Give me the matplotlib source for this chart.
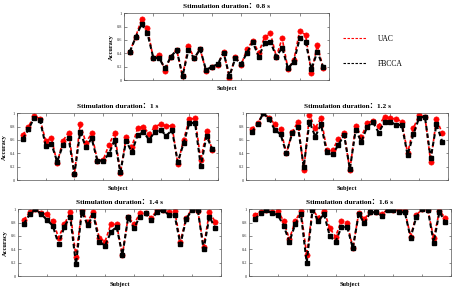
import matplotlib
matplotlib.use("Agg")
import matplotlib.pyplot as plt
from matplotlib.lines import Line2D
import numpy as np

# Accuracy per subject (34 subjects)
subjects = np.arange(1, 35)

uac_08 = [0.425, 0.65, 0.91, 0.775, 0.325, 0.375, 0.14, 0.35, 0.45, 0.06,
          0.51, 0.325, 0.465, 0.135, 0.2, 0.225, 0.425, 0.035, 0.35, 0.225,
          0.465, 0.59, 0.41, 0.64, 0.70, 0.35, 0.625, 0.165, 0.30, 0.74,
          0.675, 0.10, 0.525, 0.175]
fbcca_08 = [0.425, 0.64, 0.84, 0.70, 0.335, 0.325, 0.175, 0.35, 0.45, 0.06,
            0.45, 0.325, 0.465, 0.15, 0.2, 0.235, 0.41, 0.06, 0.325, 0.24,
            0.41, 0.565, 0.35, 0.55, 0.575, 0.35, 0.485, 0.175, 0.275, 0.625,
            0.575, 0.16, 0.425, 0.2]

uac_10 = [0.675, 0.80, 0.965, 0.915, 0.585, 0.625, 0.25, 0.59, 0.71, 0.085,
          0.84, 0.56, 0.70, 0.29, 0.30, 0.525, 0.71, 0.10, 0.64, 0.50,
          0.775, 0.80, 0.69, 0.80, 0.835, 0.81, 0.81, 0.24, 0.60, 0.91,
          0.925, 0.30, 0.735, 0.45]
fbcca_10 = [0.615, 0.76, 0.935, 0.90, 0.515, 0.54, 0.275, 0.525, 0.625, 0.085,
            0.725, 0.49, 0.625, 0.29, 0.29, 0.39, 0.60, 0.115, 0.59, 0.415,
            0.675, 0.725, 0.60, 0.725, 0.75, 0.665, 0.75, 0.265, 0.55, 0.85,
            0.86, 0.21, 0.66, 0.465]

uac_12 = [0.76, 0.85, 1.0, 0.935, 0.835, 0.76, 0.40, 0.715, 0.875, 0.15,
          0.975, 0.775, 0.935, 0.45, 0.45, 0.615, 0.70, 0.15, 0.815, 0.65,
          0.85, 0.89, 0.815, 0.95, 0.925, 0.915, 0.875, 0.40, 0.775, 0.975,
          0.95, 0.275, 0.915, 0.70]
fbcca_12 = [0.715, 0.835, 1.0, 0.915, 0.75, 0.685, 0.40, 0.70, 0.80, 0.20,
            0.875, 0.65, 0.835, 0.415, 0.385, 0.525, 0.675, 0.165, 0.75, 0.575,
            0.80, 0.865, 0.71, 0.875, 0.875, 0.825, 0.825, 0.375, 0.685, 0.935,
            0.95, 0.325, 0.835, 0.575]

uac_14 = [0.84, 0.955, 1.0, 0.94, 0.925, 0.825, 0.575, 0.775, 0.955, 0.29,
          0.99, 0.815, 0.965, 0.575, 0.515, 0.775, 0.775, 0.315, 0.89, 0.775,
          0.94, 0.94, 0.875, 0.99, 0.99, 0.955, 0.975, 0.515, 0.875, 1.0,
          0.98, 0.44, 0.955, 0.815]
fbcca_14 = [0.78, 0.925, 1.0, 0.93, 0.84, 0.755, 0.475, 0.74, 0.89, 0.175,
            0.965, 0.765, 0.915, 0.515, 0.455, 0.655, 0.74, 0.315, 0.88, 0.715,
            0.89, 0.94, 0.84, 0.965, 0.99, 0.915, 0.915, 0.475, 0.855, 0.99,
            0.99, 0.40, 0.89, 0.715]

uac_16 = [0.915, 0.955, 0.99, 0.955, 0.975, 0.825, 0.55, 0.825, 0.975, 0.315,
          1.0, 0.875, 0.98, 0.715, 0.59, 0.825, 0.80, 0.415, 0.94, 0.855,
          0.965, 0.955, 0.925, 1.0, 0.99, 0.99, 0.98, 0.59, 0.915, 1.0,
          0.99, 0.565, 0.975, 0.875]
fbcca_16 = [0.85, 0.94, 0.99, 0.94, 0.915, 0.755, 0.515, 0.775, 0.925, 0.20,
            0.99, 0.825, 0.93, 0.60, 0.515, 0.73, 0.74, 0.415, 0.93, 0.79,
            0.955, 0.955, 0.905, 0.99, 0.99, 0.955, 0.955, 0.575, 0.89, 1.0,
            0.99, 0.50, 0.965, 0.805]

durations = ["0.8", "1", "1.2", "1.4", "1.6"]
uac_all = [uac_08, uac_10, uac_12, uac_14, uac_16]
fbcca_all = [fbcca_08, fbcca_10, fbcca_12, fbcca_14, fbcca_16]

# axes boxes in pixels: left, top, right, bottom
W, H = 454, 288
boxes = [
    (124, 13.3, 329, 80),
    (17, 113.3, 218, 180),
    (246, 113.3, 448, 180),
    (18, 209.3, 221, 276),
    (249, 209.3, 451, 276),
]
has_ylabel = [True, True, False, True, False]

serif = ["Liberation Serif", "Noto Sans CJK SC", "DejaVu Sans"]
plt.rcParams["font.family"] = serif

fig = plt.figure(figsize=(W / 100, H / 100), dpi=100)

for i in range(5):
    l, t, r, b = boxes[i]
    ax = fig.add_axes([l / W, 1 - b / H, (r - l) / W, (b - t) / H])

    ax.plot(subjects, uac_all[i], color="red", linestyle=(0, (2.2, 1.4)),
            linewidth=1.2, marker="o", markersize=3.8,
            markerfacecolor="red", markeredgecolor="red", markeredgewidth=0.4)
    ax.plot(subjects, fbcca_all[i], color="black", linestyle=(0, (2.2, 1.4)),
            linewidth=1.5, marker="s", markersize=2.9,
            markerfacecolor="black", markeredgecolor="black")

    ax.set_xlim(0, 35)
    ax.set_ylim(0, 1)
    ax.set_xticks(np.arange(0, 36, 5))
    ax.set_xticklabels([])
    ax.set_yticks([0, 0.2, 0.4, 0.6, 0.8, 1])
    ax.set_yticklabels(["0", "0.2", "0.4", "0.6", "0.8", "1"])
    ax.tick_params(direction="in", length=1.8, width=0.4, labelsize=3.2,
                   pad=1.5, top=True, right=True, colors="#333333")
    for sp in ax.spines.values():
        sp.set_linewidth(0.5)
        sp.set_color("#555555")

    ax.set_title("Stimulation duration：" + durations[i] + " s",
                 fontsize=5.3, fontweight="bold", pad=4)
    ax.set_xlabel("Subject", fontsize=4.6, fontweight="bold", labelpad=2.5)
    if has_ylabel[i]:
        ax.set_ylabel("Accuracy", fontsize=4.6, fontweight="bold", labelpad=2)

# legend to the right of the top panel
handles = [
    Line2D([], [], color="red", linestyle=(0, (2.2, 1.4)), linewidth=0.8),
    Line2D([], [], color="black", linestyle=(0, (2.2, 1.4)), linewidth=0.8),
]
fig.legend(handles, ["UAC", "FBCCA"], loc="upper left",
           bbox_to_anchor=(336 / W, 1 - 28 / H), frameon=False,
           fontsize=5.5, handlelength=3.0, handletextpad=1.6, labelspacing=2.2)

fig.savefig("out.png", dpi=100)
